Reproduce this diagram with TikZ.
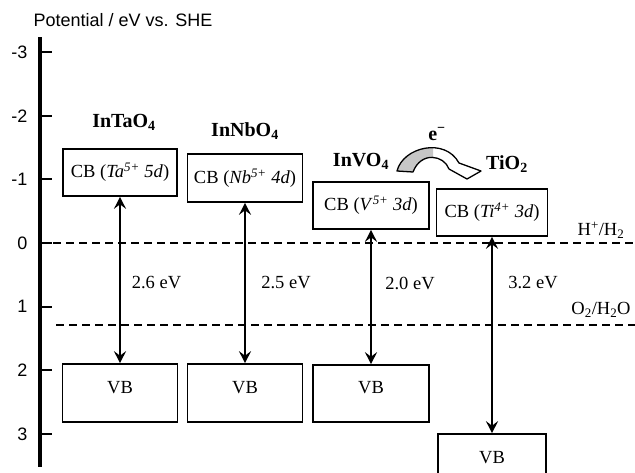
\documentclass[tikz,border=0pt]{standalone}
\usepackage{fontspec}
\setmainfont{Liberation Serif}
\newfontfamily\arialf{Liberation Sans}
\usetikzlibrary{arrows.meta}
\begin{document}
\begin{tikzpicture}[x=1pt,y=-1pt,
  bandbox/.style={draw, line width=1.6pt, inner sep=0pt, font=\fontsize{18.5}{20}\selectfont},
  vbbox/.style={bandbox, text height=13pt, text depth=13pt},
  gaparrow/.style={{Stealth[length=12pt,width=12pt,inset=4.5pt]}-{Stealth[length=12pt,width=12pt,inset=4.5pt]}, line width=1.8pt},
  redox/.style={line width=1.5pt, dash pattern=on 8pt off 5pt},
  gaplabel/.style={font=\fontsize{18.5}{20}\selectfont},
  cmpd/.style={font=\fontsize{20}{22}\selectfont\bfseries},
  ticklab/.style={font=\arialf\fontsize{18}{20}\selectfont, anchor=east},
  tickmark/.style={line width=2pt},
]
\useasboundingbox (0,0) rectangle (635,472);
\clip (0,0) rectangle (635,472);
\fill[white] (0,0) rectangle (635,472);

% title
\node[font=\arialf\fontsize{18}{20}\selectfont] (title) at (123,20) {Potential / eV vs. SHE};

% axis
\coordinate (axtop) at (40,37);
\coordinate (axbot) at (40,467);
\draw[line width=3.5pt] (axtop) -- (axbot);
\foreach \v/\lab [count=\i] in {-3/-3,-2/-2,-1/-1,0/0,1/1,2/2,3/3}{
  \coordinate (t\i) at (40,243+63.6*\v);
  \coordinate (te\i) at (52,243+63.6*\v);
  \draw[tickmark] (t\i) -- (te\i);
  \node[ticklab] (tl\i) at (31,243+63.6*\v) {\lab};
}

% redox levels
\coordinate (h0) at (40,243);
\coordinate (h1) at (635,243);
\coordinate (o0) at (56,325);
\coordinate (o1) at (635,325);
\draw[redox] (h0) -- (h1);
\draw[redox] (o0) -- (o1);
\node[gaplabel] (hlab) at (601,230) {H\textsuperscript{+}/H\textsubscript{2}};
\node[gaplabel] (olab) at (601,310) {O\textsubscript{2}/H\textsubscript{2}O};

% conduction bands
\node[bandbox, minimum width=114pt, minimum height=47pt] (cb1) at (120,172.5) {CB (\textit{Ta}\textsuperscript{\itshape 5+} \textit{5d})};
\node[bandbox, minimum width=115pt, minimum height=48pt] (cb2) at (245,178) {CB (\textit{Nb}\textsuperscript{\itshape 5+} \textit{4d})};
\node[bandbox, minimum width=116pt, minimum height=47pt] (cb3) at (371,205.5) {CB (\textit{V}\textsuperscript{\itshape 5+} \textit{3d})};
\node[bandbox, minimum width=111pt, minimum height=47pt] (cb4) at (492,212.5) {CB (\textit{Ti}\textsuperscript{\itshape 4+} \textit{3d})};

% valence bands
\node[vbbox, minimum width=115pt, minimum height=58pt] (vb1) at (120,393) {VB};
\node[vbbox, minimum width=115pt, minimum height=58pt] (vb2) at (245,393) {VB};
\node[vbbox, minimum width=116pt, minimum height=57pt] (vb3) at (371,393.5) {VB};
\node[vbbox, minimum width=108pt, minimum height=58pt] (vb4) at (492,463) {VB};

% band gaps
\draw[gaparrow] (cb1.south) -- (vb1.north);
\draw[gaparrow] (cb2.south) -- (vb2.north);
\draw[gaparrow] (cb3.south) -- (vb3.north);
\draw[gaparrow] (cb4.south) -- (vb4.north);
\node[gaplabel] (g1) at (156.5,283) {2.6 eV};
\node[gaplabel] (g2) at (286,283) {2.5 eV};
\node[gaplabel] (g3) at (410,283) {2.0 eV};
\node[gaplabel] (g4) at (533,283) {3.2 eV};

% compound labels
\node[cmpd] (c1) at (124,122) {InTaO\textsubscript{4}};
\node[cmpd] (c2) at (245,131) {InNbO\textsubscript{4}};
\node[cmpd] (c3) at (361,161) {InVO\textsubscript{4}};
\node[cmpd] (c4) at (507,164) {TiO\textsubscript{2}};
\node[cmpd] (el) at (437,134) {e\textsuperscript{\textminus}};

% electron transfer arrow
\def\etpath{(397,171) .. controls (403,147) and (445,137) .. (459,163) -- (481,171) -- (467,179) -- (449,169) .. controls (444,155) and (421,151) .. (413,172) -- cycle}
\begin{scope}
  \clip (380,130) rectangle (433,185);
  \fill[gray!45] \etpath;
\end{scope}
\draw[line width=1.3pt, line join=round] \etpath;
\end{tikzpicture}
\end{document}
